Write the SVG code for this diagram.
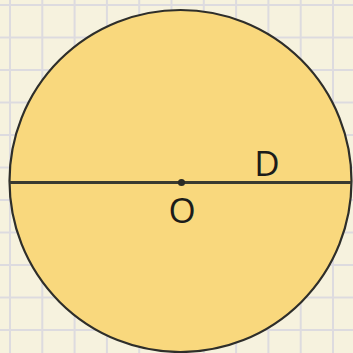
<svg xmlns="http://www.w3.org/2000/svg" width="353" height="353" viewBox="0 0 353 353">
<style>
.grid line{stroke:#dddbdf;stroke-width:2}
.lbl{font-family:"Open Sans","Noto Sans","Liberation Sans",sans-serif;font-size:35px;font-weight:500;fill:#1c1c1a}
</style>
<rect width="353" height="353" fill="#f6f2de"/>
<g class="grid">
<line x1="10" y1="0" x2="10" y2="353"/><line x1="42.3" y1="0" x2="42.3" y2="353"/><line x1="74.6" y1="0" x2="74.6" y2="353"/><line x1="106.9" y1="0" x2="106.9" y2="353"/><line x1="139.2" y1="0" x2="139.2" y2="353"/><line x1="171.5" y1="0" x2="171.5" y2="353"/><line x1="203.8" y1="0" x2="203.8" y2="353"/><line x1="236.1" y1="0" x2="236.1" y2="353"/><line x1="268.4" y1="0" x2="268.4" y2="353"/><line x1="300.7" y1="0" x2="300.7" y2="353"/><line x1="333" y1="0" x2="333" y2="353"/>
<line x1="0" y1="5" x2="353" y2="5"/><line x1="0" y1="37.5" x2="353" y2="37.5"/><line x1="0" y1="70" x2="353" y2="70"/><line x1="0" y1="102.5" x2="353" y2="102.5"/><line x1="0" y1="135" x2="353" y2="135"/><line x1="0" y1="167.5" x2="353" y2="167.5"/><line x1="0" y1="200" x2="353" y2="200"/><line x1="0" y1="232.5" x2="353" y2="232.5"/><line x1="0" y1="265" x2="353" y2="265"/><line x1="0" y1="297.5" x2="353" y2="297.5"/><line x1="0" y1="330" x2="353" y2="330"/>
</g>
<g id="circle">
<circle cx="180.5" cy="181" r="171" fill="#f9d87d" stroke="#2e2e2a" stroke-width="2.2"/>
</g>
<g id="diameter">
<line x1="9.5" y1="182.5" x2="351.5" y2="182.5" stroke="#3a3a30" stroke-width="3"/>
</g>
<g id="center">
<circle cx="181.5" cy="182.5" r="3.6" fill="#2a2a25"/>
<text class="lbl" x="182" y="223" text-anchor="middle">O</text>
</g>
<g id="labelD">
<text class="lbl" x="267" y="176" text-anchor="middle">D</text>
</g>
</svg>
